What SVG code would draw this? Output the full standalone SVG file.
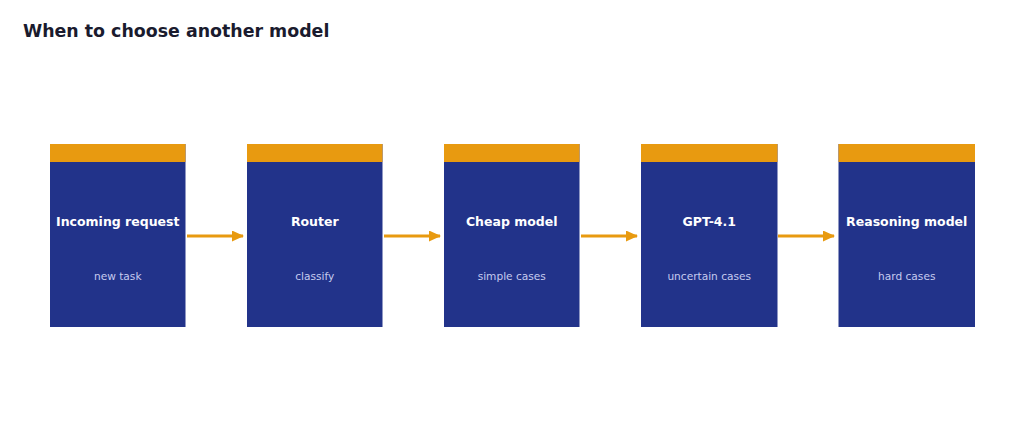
<svg xmlns="http://www.w3.org/2000/svg" width="1024" height="441" viewBox="0 0 1024 441">
<defs>
<style>
.bg{fill:#ffffff}
.title{font-family:"DejaVu Sans",sans-serif;font-weight:bold;font-size:17.4px;fill:#1a1b2e}
.box{fill:#22338a}
.band{fill:#e89a10}
.name{font-family:"DejaVu Sans",sans-serif;font-weight:bold;font-size:12.5px;fill:#ffffff;text-anchor:middle}
.sub{font-family:"DejaVu Sans",sans-serif;font-size:10.6px;fill:#c6cbef;text-anchor:middle}
.conn{stroke:#e89a10;stroke-width:3;fill:none}
</style>
<marker id="ah" markerWidth="12" markerHeight="11" refX="11" refY="5.5" orient="auto" markerUnits="userSpaceOnUse" viewBox="0 0 12 11">
<path d="M0,0 L12,5.5 L0,11 Z" fill="#e89a10"/>
</marker>
</defs>
<rect class="bg" x="0" y="0" width="1024" height="441"/>
<text class="title" x="23" y="37">When to choose another model</text>
<g id="connectors">
<line class="conn" x1="187" y1="236" x2="243" y2="236" marker-end="url(#ah)"/>
<line class="conn" x1="384" y1="236" x2="440" y2="236" marker-end="url(#ah)"/>
<line class="conn" x1="581" y1="236" x2="637" y2="236" marker-end="url(#ah)"/>
<line class="conn" x1="778" y1="236" x2="834" y2="236" marker-end="url(#ah)"/>
</g>
<g id="node-incoming">
<rect class="box" x="50" y="144" width="135.5" height="183"/>
<rect class="band" x="50" y="144" width="135.5" height="18"/>
<text class="name" x="117.75" y="226">Incoming request</text>
<text class="sub" x="117.75" y="280">new task</text>
</g>
<g id="node-router">
<rect class="box" x="247" y="144" width="135.5" height="183"/>
<rect class="band" x="247" y="144" width="135.5" height="18"/>
<text class="name" x="314.75" y="226">Router</text>
<text class="sub" x="314.75" y="280">classify</text>
</g>
<g id="node-cheap">
<rect class="box" x="444" y="144" width="135.5" height="183"/>
<rect class="band" x="444" y="144" width="135.5" height="18"/>
<text class="name" x="511.75" y="226">Cheap model</text>
<text class="sub" x="511.75" y="280">simple cases</text>
</g>
<g id="node-gpt41">
<rect class="box" x="641" y="144" width="136.5" height="183"/>
<rect class="band" x="641" y="144" width="136.5" height="18"/>
<text class="name" x="709.25" y="226">GPT-4.1</text>
<text class="sub" x="709.25" y="280">uncertain cases</text>
</g>
<g id="node-reasoning">
<rect class="box" x="838.5" y="144" width="136.5" height="183"/>
<rect class="band" x="838.5" y="144" width="136.5" height="18"/>
<text class="name" x="906.75" y="226">Reasoning model</text>
<text class="sub" x="906.75" y="280">hard cases</text>
</g>
</svg>
